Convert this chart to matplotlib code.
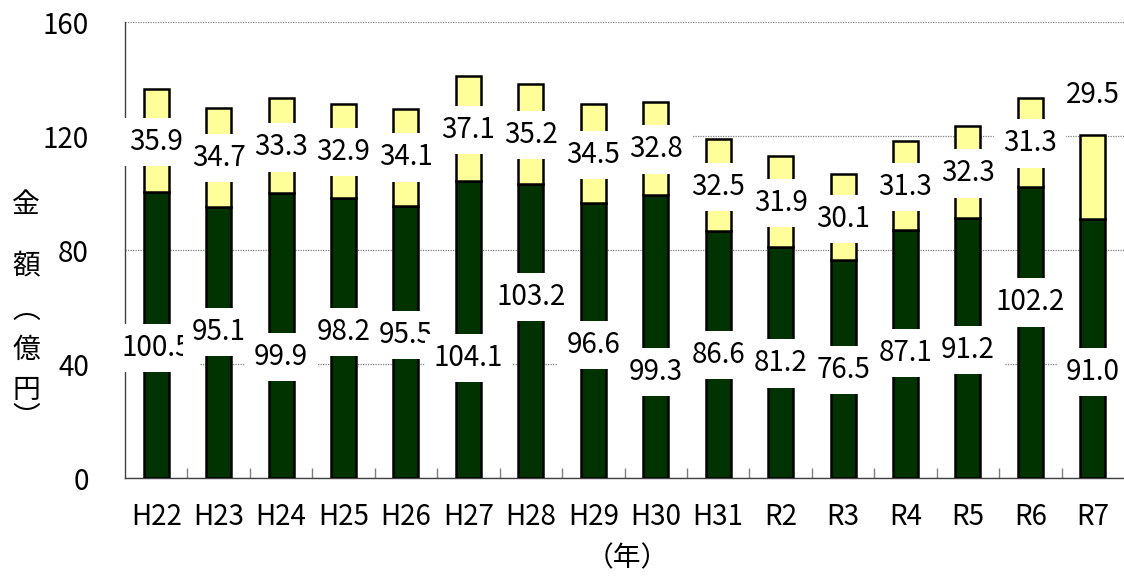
import matplotlib
matplotlib.use("Agg")
import matplotlib.pyplot as plt
import numpy as np

plt.rcParams['font.family'] = ['Noto Sans CJK JP', 'DejaVu Sans']

years = ["H22", "H23", "H24", "H25", "H26", "H27", "H28", "H29", "H30", "H31",
         "R2", "R3", "R4", "R5", "R6", "R7"]
lower = [100.5, 95.1, 99.9, 98.2, 95.5, 104.1, 103.2, 96.6, 99.3, 86.6,
         81.2, 76.5, 87.1, 91.2, 102.2, 91.0]
upper = [35.9, 34.7, 33.3, 32.9, 34.1, 37.1, 35.2, 34.5, 32.8, 32.5,
         31.9, 30.1, 31.3, 32.3, 31.3, 29.5]
yticks = [0, 40, 80, 120, 160]

# label vertical positions (data units), as placed in the reference
lower_label_y = [45.5, 51.3, 42.4, 51.3, 50.2, 42.0, 63.4, 46.7, 37.3, 43.2,
                 40.2, 37.9, 43.8, 44.9, 61.6, 37.3]
upper_label_y = [118.0, 112.2, 116.0, 114.5, 112.5, 122.1, 120.4, 113.3, 115.3, 102.2,
                 96.6, 90.8, 102.2, 106.9, 117.4, 134.4]

W, H = 1124, 578
fig = plt.figure(figsize=(W / 100, H / 100), dpi=100)
ax = fig.add_axes([125 / W, (H - 478) / H, 1 - 125 / W, (478 - 22) / H])

x = np.arange(len(years))
dark = "#003300"
light = "#FFFF99"
ax.bar(x, lower, width=0.40, color=dark, edgecolor="black", linewidth=1.8, zorder=3)
ax.bar(x, upper, bottom=lower, width=0.40, color=light, edgecolor="black", linewidth=1.8, zorder=3)

fs = 20
for i in range(len(years)):
    ax.text(x[i], lower_label_y[i], f"{lower[i]:.1f}", ha="center", va="center",
            fontsize=fs, zorder=5,
            bbox=dict(boxstyle="square,pad=0.33", fc="white", ec="none"))
    ax.text(x[i], upper_label_y[i], f"{upper[i]:.1f}", ha="center", va="center",
            fontsize=fs, zorder=5,
            bbox=dict(boxstyle="square,pad=0.33", fc="white", ec="none"))

ax.set_xlim(-0.5, len(years) - 0.5)
ax.set_ylim(0, 160)
ax.set_yticks(yticks)
ax.set_yticklabels([str(v) for v in yticks], fontsize=fs)
ax.tick_params(axis="y", length=0, pad=26)
ax.yaxis.grid(True, linestyle=(0, (1, 1)), color="#808080", linewidth=0.9, zorder=0)
ax.set_axisbelow(True)

ax.set_xticks(np.arange(0.5, len(years) - 0.5, 1.0))
ax.set_xticklabels([])
ax.tick_params(axis="x", which="major", direction="in", length=7, color="#808080", width=1)
ax.set_xticks(x, minor=True)
ax.set_xticklabels(years, minor=True, fontsize=fs)
ax.tick_params(axis="x", which="minor", length=0, pad=17)

for s in ["top", "right"]:
    ax.spines[s].set_visible(False)
ax.spines["left"].set_color("#404040")
ax.spines["bottom"].set_color("#404040")
ax.spines["left"].set_linewidth(1.0)
ax.spines["bottom"].set_linewidth(1.0)

# y-axis label, vertical stacked characters
ylab_chars = ["金", "額", "︵", "億", "円", "︶"]
ylab_pix = [205, 265, 310, 350, 390, 418]
for ch, py in zip(ylab_chars, ylab_pix):
    fig.text(26 / W, 1 - py / H, ch, ha="center", va="center", fontsize=fs)

fig.text(627 / W, 1 - 558 / H, "（年）", ha="center", va="center", fontsize=fs)

fig.savefig("out.png", dpi=100)
